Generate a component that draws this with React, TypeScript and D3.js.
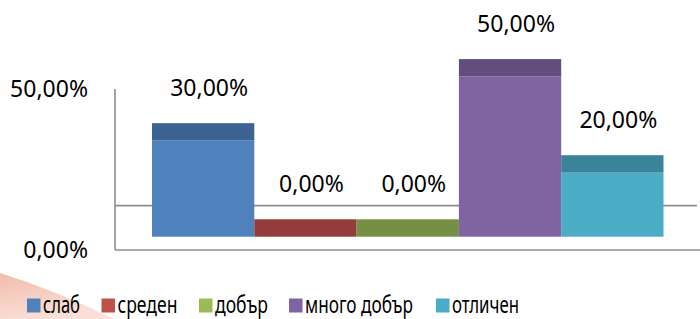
import React, { useEffect, useRef } from 'react';
import * as d3 from 'd3';

// данни
const categories = ['слаб', 'среден', 'добър', 'много добър', 'отличен'];
const values = [30, 0, 0, 50, 20];
const axisTicks = [0, 50];
const colors = ['#4F81BD', '#C0504D', '#9BBB59', '#8064A2', '#4BACC6'];

const W = 700;
const H = 319;
const FONT = '"Noto Sans", sans-serif';

const fmt = (v: number) => v.toFixed(2).replace('.', ',') + '%';

export default function App() {
  const ref = useRef<SVGSVGElement | null>(null);

  useEffect(() => {
    const svg = d3.select(ref.current);
    svg.selectAll('*').remove();

    // swoosh в долния ляв ъгъл
    const defs = svg.append('defs');
    const grad = defs.append('linearGradient').attr('id', 'sw')
      .attr('x1', '0').attr('y1', '0').attr('x2', '0.4').attr('y2', '1');
    grad.append('stop').attr('offset', '0%').attr('stop-color', '#f2bcac');
    grad.append('stop').attr('offset', '100%').attr('stop-color', '#fae0d8');
    svg.append('path')
      .attr('d', 'M0,273 Q55,290 114,319 L0,319 Z')
      .attr('fill', 'url(#sw)');

    const depth = 17.4;
    const x = d3.scaleBand().domain(categories).range([152, 663.5]).padding(0);
    // предна равнина на стълбовете
    const yBar = d3.scaleLinear().domain([0, 50]).range([236.7, 76.5]);
    // ос
    const yAxis = d3.scaleLinear().domain([0, 50]).range([250, 89]);

    // линии: задна основа, предна основа, вертикална ос
    svg.append('line').attr('x1', 115).attr('x2', 697).attr('y1', 205.6).attr('y2', 205.6)
      .attr('stroke', '#8c8c8c').attr('stroke-width', 1.6);
    svg.append('line').attr('x1', 115).attr('x2', 700).attr('y1', 250).attr('y2', 250)
      .attr('stroke', '#8c8c8c').attr('stroke-width', 1.6);
    svg.append('line').attr('x1', 115).attr('x2', 115).attr('y1', yAxis(50)).attr('y2', 250)
      .attr('stroke', '#8c8c8c').attr('stroke-width', 1.6);

    svg.selectAll('text.tick').data(axisTicks).join('text')
      .attr('class', 'tick')
      .attr('x', 88).attr('y', (d) => yAxis(d) + 8)
      .attr('text-anchor', 'end')
      .attr('font-family', FONT).attr('font-size', 23).attr('fill', '#000')
      .text((d) => fmt(d));

    const g = svg.append('g');
    categories.forEach((c, i) => {
      const v = values[i];
      const x0 = x(c)!;
      const bw = x.bandwidth();
      const yt = yBar(v);
      const col = d3.color(colors[i])!;
      // предна стена
      g.append('rect').attr('x', x0).attr('y', yt).attr('width', bw)
        .attr('height', yBar(0) - yt).attr('fill', colors[i]);
      // горна стена (по-тъмна)
      g.append('rect').attr('x', x0).attr('y', yt - depth).attr('width', bw)
        .attr('height', depth).attr('fill', col.darker(0.75).formatHex());
      // етикет
      g.append('text')
        .attr('x', x0 + bw / 2 + 6).attr('y', yt - depth - 27)
        .attr('text-anchor', 'middle')
        .attr('font-family', FONT).attr('font-size', 23).attr('fill', '#000')
        .text(fmt(v));
    });

    // легенда (тесен шрифт -> свиваме текста по ширина)
    const legendX = [27, 101.5, 199, 289, 436];
    const legendW = [37, 60, 53, 108, 67];
    const lg = svg.append('g');
    categories.forEach((c, i) => {
      lg.append('rect').attr('x', legendX[i]).attr('y', 298.5).attr('width', 13.5).attr('height', 14)
        .attr('fill', colors[i]);
      lg.append('text').attr('x', legendX[i] + 16).attr('y', 313)
        .attr('font-family', FONT).attr('font-size', 23).attr('fill', '#000')
        .attr('textLength', legendW[i]).attr('lengthAdjust', 'spacingAndGlyphs')
        .text(c);
    });
  }, []);

  return <svg ref={ref} width={W} height={H} style={{ display: 'block', position: 'absolute', left: 0, top: 0 }} />;
}
